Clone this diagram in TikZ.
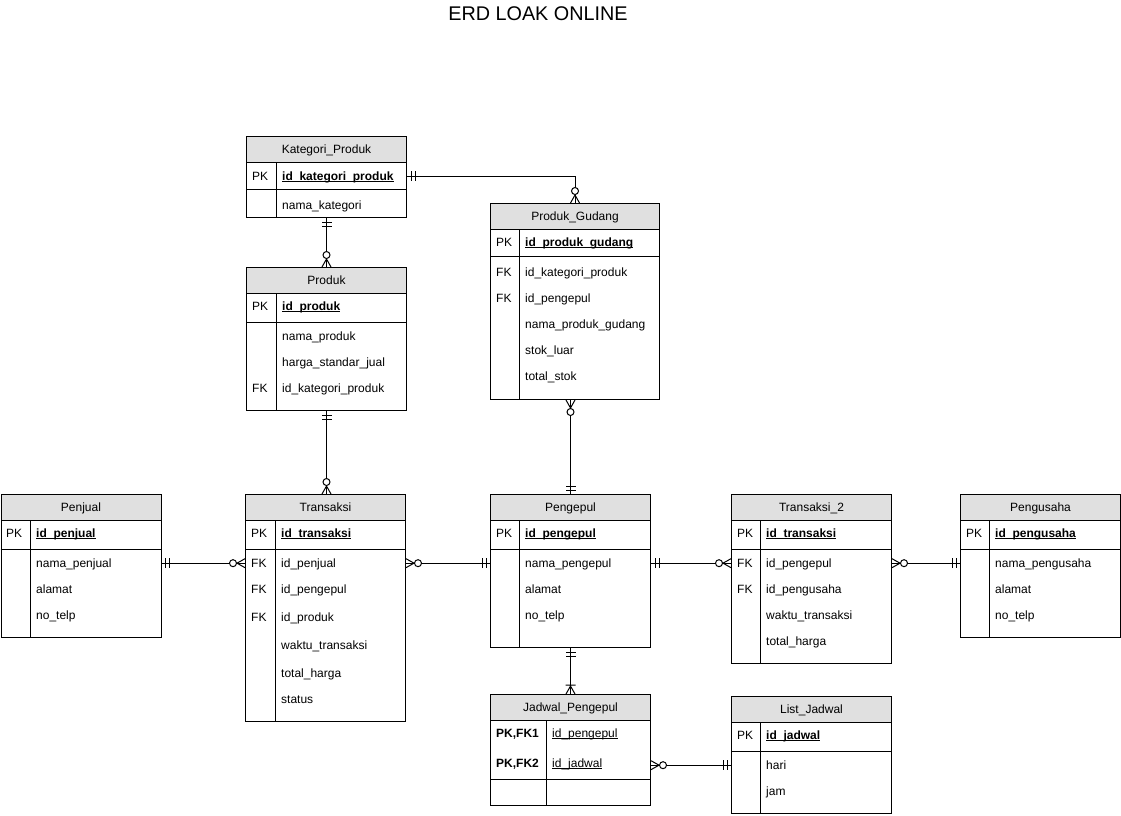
\documentclass[tikz,border=0pt]{standalone}
\usepackage{fontspec}
\setmainfont{Liberation Sans}
\usetikzlibrary{decorations.markings}
\definecolor{hdr}{HTML}{E0E0E0}
\newcommand\myul[1]{\setbox0\hbox{#1}\rlap{\rule[-1.8pt]{\wd0}{0.9pt}}\box0}
\newcommand\gOne[1]{\draw[rel] (#1*4,-5) -- (#1*4,5) (#1*8,-5) -- (#1*8,5);}
\newcommand\gZM[1]{\draw[rel] (#1*8,0) -- (0,-4.5) (#1*8,0) -- (0,4.5); \draw[rel,fill=white] (#1*12,0) circle[radius=3.5pt];}
\newcommand\gOM[1]{\draw[rel] (#1*8,0) -- (0,-4.5) (#1*8,0) -- (0,4.5) (#1*9,-5) -- (#1*9,5);}
\newcommand\ertab[7]{%
  \node[tblbox, minimum width=#4pt, minimum height=#5pt] (#1) at (#2,#3) {};
  \node[hdrbox, minimum width=#4pt] (#1-h) at (#2,#3) {#6};
  \draw[rel] (#7,#3+26) -- (#7,#3+#5);
}
\tikzset{
  rel/.style={line width=1pt},
  tblbox/.style={draw, line width=1pt, inner sep=0pt, anchor=north west},
  hdrbox/.style={draw, fill=hdr, line width=1pt, inner sep=0pt, minimum height=26pt,
    anchor=north west, text height=8.6pt, text depth=0pt, font=\fontsize{12}{14}\selectfont},
  cell/.style={anchor=base west, inner sep=0pt, yshift=-4.3pt, font=\fontsize{12}{14}\selectfont},
  keycell/.style={cell, font=\fontsize{12}{14}\selectfont\bfseries},
  s one/.style={postaction={decorate,decoration={markings,mark=at position 0 with {\gOne{1}}}}},
  e one/.style={postaction={decorate,decoration={markings,mark=at position 1 with {\gOne{-1}}}}},
  s zm/.style={postaction={decorate,decoration={markings,mark=at position 0 with {\gZM{1}}}}},
  e zm/.style={postaction={decorate,decoration={markings,mark=at position 1 with {\gZM{-1}}}}},
  e om/.style={postaction={decorate,decoration={markings,mark=at position 1 with {\gOM{-1}}}}},
}
\begin{document}
\begin{tikzpicture}[x=1pt,y=-1pt]
\useasboundingbox (0,0) rectangle (1121,815);
\node[font=\fontsize{19.8}{22}\selectfont, text height=14.2pt, text depth=0pt, inner sep=0pt] (title) at (538,13) {ERD LOAK ONLINE};

% Kategori_Produk
\ertab{kat}{246}{136}{160}{81}{Kategori\_Produk}{276}
\draw[rel] (246,189) -- (406,189);
\node[cell] (katk1) at (252,176) {PK};
\node[keycell] (katf1) at (282,176) {\myul{id\_kategori\_produk}};
\node[cell] (katf2) at (282,205) {nama\_kategori};

% Produk_Gudang
\ertab{pg}{490}{203}{169}{196}{Produk\_Gudang}{519}
\draw[rel] (490,256) -- (659,256);
\node[cell] (pgk1) at (496,242) {PK};
\node[keycell] (pgf1) at (525,242) {\myul{id\_produk\_gudang}};
\node[cell] (pgk2) at (496,272) {FK};
\node[cell] (pgf2) at (525,272) {id\_kategori\_produk};
\node[cell] (pgk3) at (496,298) {FK};
\node[cell] (pgf3) at (525,298) {id\_pengepul};
\node[cell] (pgf4) at (525,324) {nama\_produk\_gudang};
\node[cell] (pgf5) at (525,350) {stok\_luar};
\node[cell] (pgf6) at (525,376) {total\_stok};

% Produk
\ertab{prod}{246}{267}{160}{143}{Produk}{276}
\draw[rel] (246,322) -- (406,322);
\node[cell] (prodk1) at (252,306) {PK};
\node[keycell] (prodf1) at (282,306) {\myul{id\_produk}};
\node[cell] (prodf2) at (282,336) {nama\_produk};
\node[cell] (prodf3) at (282,362) {harga\_standar\_jual};
\node[cell] (prodk4) at (252,388) {FK};
\node[cell] (prodf4) at (282,388) {id\_kategori\_produk};

% Penjual
\ertab{penj}{0.5}{494}{160}{143}{Penjual}{30}
\draw[rel] (0.5,549) -- (160.5,549);
\node[cell] (penjk1) at (6,533) {PK};
\node[keycell] (penjf1) at (36,533) {\myul{id\_penjual}};
\node[cell] (penjf2) at (36,563) {nama\_penjual};
\node[cell] (penjf3) at (36,589) {alamat};
\node[cell] (penjf4) at (36,615) {no\_telp};

% Transaksi
\ertab{tr}{245}{494}{160}{227}{Transaksi}{275}
\draw[rel] (245,549) -- (405,549);
\node[cell] (trk1) at (251,533) {PK};
\node[keycell] (trf1) at (281,533) {\myul{id\_transaksi}};
\node[cell] (trk2) at (251,563) {FK};
\node[cell] (trf2) at (281,563) {id\_penjual};
\node[cell] (trk3) at (251,589) {FK};
\node[cell] (trf3) at (281,589) {id\_pengepul};
\node[cell] (trk4) at (251,617) {FK};
\node[cell] (trf4) at (281,617) {id\_produk};
\node[cell] (trf5) at (281,645) {waktu\_transaksi};
\node[cell] (trf6) at (281,673) {total\_harga};
\node[cell] (trf7) at (281,699) {status};

% Pengepul
\ertab{peng}{490}{494}{160}{153}{Pengepul}{519}
\draw[rel] (490,549) -- (650,549);
\node[cell] (pengk1) at (496,533) {PK};
\node[keycell] (pengf1) at (525,533) {\myul{id\_pengepul}};
\node[cell] (pengf2) at (525,563) {nama\_pengepul};
\node[cell] (pengf3) at (525,589) {alamat};
\node[cell] (pengf4) at (525,615) {no\_telp};

% Transaksi_2
\ertab{tt}{731}{494}{160}{169}{Transaksi\_2}{760}
\draw[rel] (731,549) -- (891,549);
\node[cell] (ttk1) at (737,533) {PK};
\node[keycell] (ttf1) at (766,533) {\myul{id\_transaksi}};
\node[cell] (ttk2) at (737,563) {FK};
\node[cell] (ttf2) at (766,563) {id\_pengepul};
\node[cell] (ttk3) at (737,589) {FK};
\node[cell] (ttf3) at (766,589) {id\_pengusaha};
\node[cell] (ttf4) at (766,615) {waktu\_transaksi};
\node[cell] (ttf5) at (766,641) {total\_harga};

% Pengusaha
\ertab{pus}{960}{494}{160}{143}{Pengusaha}{989}
\draw[rel] (960,549) -- (1120,549);
\node[cell] (pusk1) at (966,533) {PK};
\node[keycell] (pusf1) at (995,533) {\myul{id\_pengusaha}};
\node[cell] (pusf2) at (995,563) {nama\_pengusaha};
\node[cell] (pusf3) at (995,589) {alamat};
\node[cell] (pusf4) at (995,615) {no\_telp};

% Jadwal_Pengepul
\ertab{jp}{490}{694}{160}{111}{Jadwal\_Pengepul}{546}
\draw[rel] (490,779) -- (650,779);
\node[keycell] (jpk1) at (496,733) {PK,FK1};
\node[cell] (jpf1) at (552,733) {\myul{id\_pengepul}};
\node[keycell] (jpk2) at (496,763) {PK,FK2};
\node[cell] (jpf2) at (552,763) {\myul{id\_jadwal}};

% List_Jadwal
\ertab{lj}{731}{696}{160}{117}{List\_Jadwal}{760}
\draw[rel] (731,751) -- (891,751);
\node[cell] (ljk1) at (737,735) {PK};
\node[keycell] (ljf1) at (766,735) {\myul{id\_jadwal}};
\node[cell] (ljf2) at (766,765) {hari};
\node[cell] (ljf3) at (766,791) {jam};

% Relationships
\draw[rel, s one, e zm] (kat.east |- katk1) -| (pg.north);
\draw[rel, s one, e zm] (kat.south) -- (prod.north);
\draw[rel, s one, e zm] (prod.south) -- (prod.south |- tr.north);
\draw[rel, s zm, e one] (peng.north |- pg.south) -- (peng.north);
\draw[rel, s one, e zm] (penj.east |- trk2) -- (tr.west |- trk2);
\draw[rel, s zm, e one] (tr.east |- trk2) -- (peng.west |- trk2);
\draw[rel, s one, e zm] (peng.east |- ttk2) -- (tt.west |- ttk2);
\draw[rel, s zm, e one] (tt.east |- ttk2) -- (pus.west |- ttk2);
\draw[rel, s one, e om] (peng.south) -- (jp.north);
\draw[rel, s zm, e one] (jp.east |- ljk1) ++(0,30) coordinate (jpr) (jpr) -- (lj.west |- jpr);
\end{tikzpicture}
\end{document}
